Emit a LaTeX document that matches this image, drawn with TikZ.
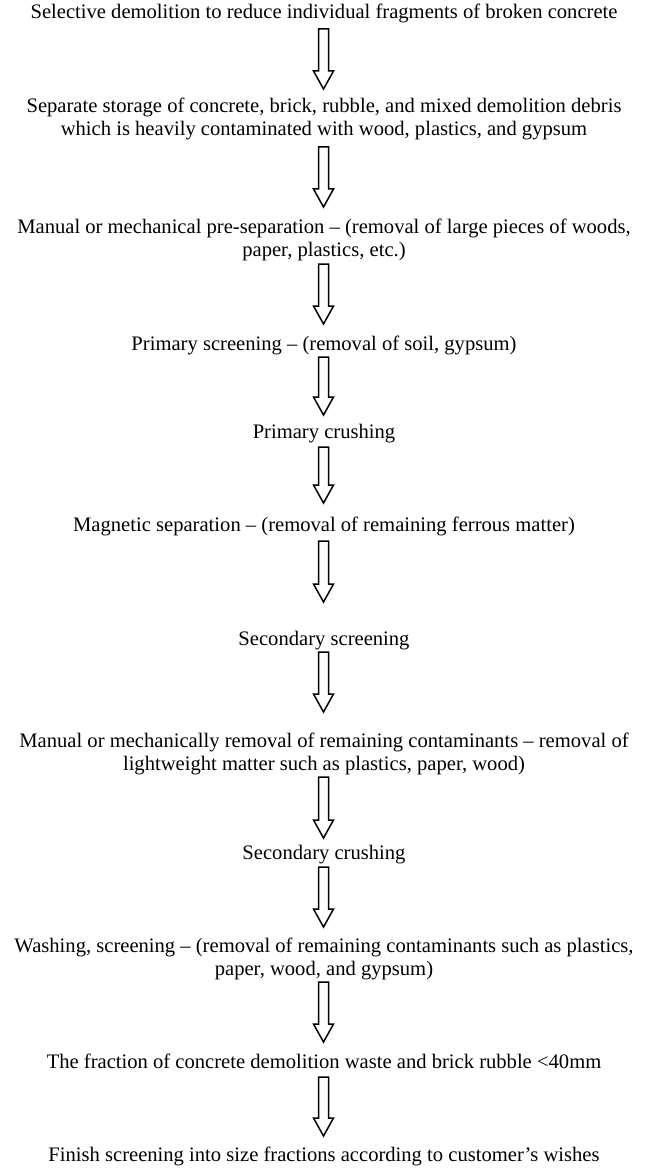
\documentclass[tikz,border=0pt]{standalone}
\usepackage{fontspec}
\setmainfont{Liberation Serif}
\usetikzlibrary{calc}
\tikzset{
  lbl/.style={font=\fontsize{20.6}{22.5}\selectfont, align=center, inner sep=0pt, anchor=center},
  blk/.style={draw=black, line width=1.5pt, fill=white, line join=miter}
}
\newcommand{\blockarr}[2]{%
  \draw[blk] let \p1=(#1), \p2=(#2) in
    (\x1-5pt,\y1) -- (\x1+5pt,\y1) -- (\x1+5pt,\y2+18pt) -- (\x1+10pt,\y2+18pt)
    -- (\x1,\y2) -- (\x1-10pt,\y2+18pt) -- (\x1-5pt,\y2+18pt) -- cycle;}
\begin{document}
\begin{tikzpicture}[x=1pt,y=-1pt]
\useasboundingbox (0,0) rectangle (649,1169);
\node[lbl] (t1) at (324,13) {Selective demolition to reduce individual fragments of broken concrete};
\node[lbl] (t2) at (324,119) {Separate storage of concrete, brick, rubble, and mixed demolition debris\\which is heavily contaminated with wood, plastics, and gypsum};
\node[lbl] (t3) at (324,240) {Manual or mechanical pre-separation -- (removal of large pieces of woods,\\paper, plastics, etc.)};
\node[lbl] (t4) at (324,345) {Primary screening -- (removal of soil, gypsum)};
\node[lbl] (t5) at (324,434) {Primary crushing};
\node[lbl] (t6) at (324,526) {Magnetic separation -- (removal of remaining ferrous matter)};
\node[lbl] (t7) at (324,641) {Secondary screening};
\node[lbl] (t8) at (324,754) {Manual or mechanically removal of remaining contaminants -- removal of\\lightweight matter such as plastics, paper, wood)};
\node[lbl] (t9) at (324,855) {Secondary crushing};
\node[lbl] (t10) at (324,959) {Washing, screening -- (removal of remaining contaminants such as plastics,\\paper, wood, and gypsum)};
\node[lbl] (t11) at (324,1061) {The fraction of concrete demolition waste and brick rubble <40mm};
\node[lbl] (t12) at (324,1156) {Finish screening into size fractions according to customer's wishes};
\coordinate (a1s) at (323.5,29);  \coordinate (a1e) at (323.5,89);
\coordinate (a2s) at (323.5,147); \coordinate (a2e) at (323.5,207);
\coordinate (a3s) at (323.5,264); \coordinate (a3e) at (323.5,324);
\coordinate (a4s) at (323.5,357); \coordinate (a4e) at (323.5,415);
\coordinate (a5s) at (323.5,447); \coordinate (a5e) at (323.5,503);
\coordinate (a6s) at (323.5,541); \coordinate (a6e) at (323.5,602);
\coordinate (a7s) at (323.5,652); \coordinate (a7e) at (323.5,712);
\coordinate (a8s) at (323.5,777); \coordinate (a8e) at (323.5,838);
\coordinate (a9s) at (323.5,867); \coordinate (a9e) at (323.5,927);
\coordinate (a10s) at (323.5,982); \coordinate (a10e) at (323.5,1042);
\coordinate (a11s) at (323.5,1077); \coordinate (a11e) at (323.5,1136);
\blockarr{a1s}{a1e}
\blockarr{a2s}{a2e}
\blockarr{a3s}{a3e}
\blockarr{a4s}{a4e}
\blockarr{a5s}{a5e}
\blockarr{a6s}{a6e}
\blockarr{a7s}{a7e}
\blockarr{a8s}{a8e}
\blockarr{a9s}{a9e}
\blockarr{a10s}{a10e}
\blockarr{a11s}{a11e}
\end{tikzpicture}
\end{document}
